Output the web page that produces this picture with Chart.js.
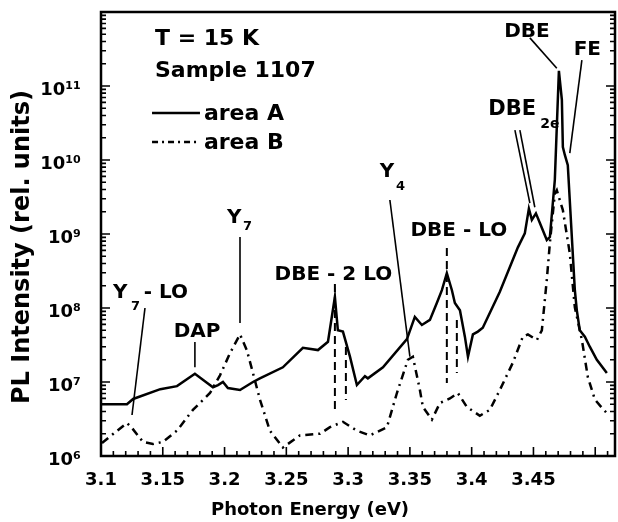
<!DOCTYPE html>
<html>
<head>
<meta charset="utf-8">
<script src="https://cdn.jsdelivr.net/npm/chart.js@4"></script>
<style>
html, body { margin: 0; padding: 0; background: #fff; }
</style>
</head>
<body>
<canvas id="pl" width="618" height="522"></canvas>
<script>
// area A (solid) - photon energy in eV, PL intensity in rel. units
var energyA = [3.100, 3.121, 3.126, 3.148, 3.1615, 3.176, 3.1906, 3.1947, 3.1987, 3.2027,
  3.2125, 3.223, 3.2286, 3.2472, 3.2634, 3.2756, 3.2837, 3.2893, 3.2917, 3.2958,
  3.3015, 3.3071, 3.3136, 3.316, 3.3282, 3.3476, 3.354, 3.3597, 3.3662, 3.3718,
  3.3759, 3.3799, 3.384, 3.3864, 3.3905, 3.3945, 3.397, 3.401, 3.405, 3.409,
  3.4228, 3.4374, 3.443, 3.4463, 3.4487, 3.452, 3.4552, 3.4608, 3.4633, 3.4673,
  3.4689, 3.4706, 3.473, 3.4738, 3.4754, 3.4778, 3.4835, 3.4851, 3.4875, 3.4916,
  3.4956, 3.5013, 3.5094];
var intensityA = [5.0e6, 5.0e6, 5.9e6, 8.0e6, 8.8e6, 1.29e7, 8.5e6, 9.1e6, 1.0e7, 8.3e6,
  7.8e6, 1.0e7, 1.12e7, 1.58e7, 2.9e7, 2.7e7, 3.5e7, 1.41e8, 5.0e7, 4.8e7,
  2.2e7, 9.1e6, 1.2e7, 1.12e7, 1.58e7, 3.8e7, 7.6e7, 5.9e7, 6.9e7, 1.17e8,
  1.74e8, 2.95e8, 1.74e8, 1.17e8, 9.3e7, 4.1e7, 2.2e7, 4.4e7, 4.8e7, 5.4e7,
  1.66e8, 6.6e8, 1.02e9, 2.2e9, 1.55e9, 1.9e9, 1.41e9, 8.3e8, 9.1e8, 5.4e9,
  2.8e10, 1.6e11, 6.5e10, 1.5e10, 1.17e10, 8.5e9, 1.74e8, 9.3e7, 5.0e7, 4.1e7,
  3.0e7, 2.0e7, 1.32e7];

// area B (dash-dot)
var energyB = [3.1008, 3.121, 3.125, 3.134, 3.142, 3.150, 3.1615, 3.1744, 3.1882, 3.1963,
  3.2044, 3.2125, 3.218, 3.223, 3.2286, 3.2367, 3.2472, 3.261, 3.2772, 3.2853,
  3.2958, 3.3071, 3.3176, 3.3314, 3.3395, 3.3484, 3.3524, 3.3581, 3.3605, 3.3678,
  3.3743, 3.3824, 3.3888, 3.3961, 3.4066, 3.4147, 3.4228, 3.4333, 3.4414, 3.4455,
  3.4528, 3.4568, 3.4608, 3.4633, 3.4673, 3.4689, 3.4738, 3.4794, 3.4835, 3.4892,
  3.494, 3.4997, 3.5053, 3.5094];
var intensityB = [1.5e6, 2.8e6, 2.4e6, 1.55e6, 1.45e6, 1.55e6, 2.2e6, 4.2e6, 7.1e6, 1.23e7,
  2.45e7, 4.4e7, 2.7e7, 1.32e7, 5.8e6, 2.2e6, 1.3e6, 1.9e6, 2.0e6, 2.45e6,
  2.9e6, 2.2e6, 1.9e6, 2.45e6, 7.1e6, 2.0e7, 2.2e7, 7.8e6, 4.6e6, 3.1e6,
  5.2e6, 6.0e6, 7.1e6, 4.6e6, 3.5e6, 4.2e6, 7.8e6, 1.82e7, 4.1e7, 4.4e7,
  3.7e7, 5.0e7, 2.4e8, 7.6e8, 3.5e9, 3.9e9, 2.1e9, 5.5e8, 1.02e8, 3.7e7,
  1.17e7, 5.8e6, 4.5e6, 3.8e6];

var xTickValues = [3.1, 3.15, 3.2, 3.25, 3.3, 3.35, 3.4, 3.45, 3.5];
var xTickLabels = ['3.1', '3.15', '3.2', '3.25', '3.3', '3.35', '3.4', '3.45', '3.5'];
var yTickValues = [1e6, 1e7, 1e8, 1e9, 1e10, 1e11];
var yTickLabels = ['10\u2076', '10\u2077', '10\u2078', '10\u2079', '10\u00b9\u2070', '10\u00b9\u00b9'];

// peak labels, placed in data units
var notes = [
  {t: 'T = 15 K', x: 3.1437, y: 3.58e11, size: 22, align: 'left'},
  {t: 'Sample 1107', x: 3.1437, y: 1.32e11, size: 22, align: 'left'},
  {t: 'Y', x: 3.1097, y: 1.36e8, size: 20, align: 'left'},
  {t: '7', x: 3.1243, y: 9.4e7, size: 13, align: 'left'},
  {t: '- LO', x: 3.1345, y: 1.36e8, size: 20, align: 'left'},
  {t: 'DAP', x: 3.1777, y: 4.06e7, size: 20, align: 'center'},
  {t: 'Y', x: 3.2019, y: 1.41e9, size: 20, align: 'left'},
  {t: '7', x: 3.2149, y: 1.12e9, size: 13, align: 'left'},
  {t: 'DBE - 2 LO', x: 3.2881, y: 2.39e8, size: 20, align: 'center'},
  {t: 'Y', x: 3.3257, y: 5.9e9, size: 20, align: 'left'},
  {t: '4', x: 3.3387, y: 3.94e9, size: 13, align: 'left'},
  {t: 'DBE - LO', x: 3.3896, y: 9.4e8, size: 20, align: 'center'},
  {t: 'DBE', x: 3.4135, y: 4.06e10, size: 21, align: 'left'},
  {t: '2e', x: 3.4555, y: 2.7e10, size: 14, align: 'left'},
  {t: 'DBE', x: 3.4447, y: 4.6e11, size: 20, align: 'center'},
  {t: 'FE', x: 3.4936, y: 2.62e11, size: 20, align: 'center'}
];
var pointers = [
  {x1: 3.2125, y1: 9.1e8, x2: 3.2125, y2: 6.27e7},
  {x1: 3.1356, y1: 1.0e8, x2: 3.1251, y2: 3.58e6},
  {x1: 3.176, y1: 3.47e7, x2: 3.176, y2: 1.58e7},
  {x1: 3.3338, y1: 2.88e9, x2: 3.35, y2: 2.2e7},
  {x1: 3.435, y1: 2.54e10, x2: 3.4471, y2: 2.62e9},
  {x1: 3.439, y1: 2.54e10, x2: 3.4511, y2: 2.3e9},
  {x1: 3.4471, y1: 4.47e11, x2: 3.4689, y2: 1.74e11},
  {x1: 3.4892, y1: 2.24e11, x2: 3.4794, y2: 1.24e10}
];
var phononLines = [
  {x: 3.2893, y1: 2.11e8, y2: 4.19e6},
  {x: 3.2982, y1: 2.97e7, y2: 5.71e6},
  {x: 3.3799, y1: 6.47e8, y2: 9.7e6},
  {x: 3.388, y1: 6.89e7, y2: 1.32e7}
];
var keyItems = [
  {t: 'area A', x1: 3.1413, x2: 3.1801, tx: 3.1833, y: 4.3e10, dash: []},
  {t: 'area B', x1: 3.1413, x2: 3.1801, tx: 3.1833, y: 1.75e10, dash: [6, 4, 2, 4]}
];

var FONT = '"DejaVu Sans", sans-serif';
Chart.defaults.font.family = FONT;
Chart.defaults.font.weight = 'bold';
Chart.defaults.color = '#000';

function near(a, b) { return Math.abs(a - b) < Math.abs(b) * 1e-6; }

var decorate = {
  id: 'decorate',
  afterDatasetsDraw: function (chart) {
    var ctx = chart.ctx, a = chart.chartArea;
    var xs = chart.scales.x, ys = chart.scales.y;
    var X = function (v) { return xs.getPixelForValue(v); };
    var Y = function (v) { return ys.getPixelForValue(v); };
    ctx.save();
    ctx.strokeStyle = '#000';
    ctx.fillStyle = '#000';

    // box
    ctx.lineWidth = 2.5;
    ctx.strokeRect(a.left, a.top, a.right - a.left, a.bottom - a.top);

    // inward ticks
    ctx.lineWidth = 1.6;
    ctx.beginPath();
    for (var i = 0; i <= 41; i++) {
      var p = X(3.1 + i * 0.01);
      var len = i % 5 === 0 ? 9 : 5;
      ctx.moveTo(p, a.bottom); ctx.lineTo(p, a.bottom - len);
    }
    for (var d = 6; d < 12; d++) {
      for (var m = 1; m < 10; m++) {
        var q = Y(m * Math.pow(10, d));
        var l2 = m === 1 ? 9 : 5;
        ctx.moveTo(a.left, q); ctx.lineTo(a.left + l2, q);
        ctx.moveTo(a.right, q); ctx.lineTo(a.right - l2, q);
      }
    }
    ctx.stroke();

    // pointer lines
    ctx.lineWidth = 1.6;
    pointers.forEach(function (s) {
      ctx.beginPath();
      ctx.moveTo(X(s.x1), Y(s.y1)); ctx.lineTo(X(s.x2), Y(s.y2));
      ctx.stroke();
    });
    ctx.lineWidth = 2;
    ctx.setLineDash([8, 5]);
    phononLines.forEach(function (s) {
      ctx.beginPath();
      ctx.moveTo(X(s.x), Y(s.y1)); ctx.lineTo(X(s.x), Y(s.y2));
      ctx.stroke();
    });
    ctx.setLineDash([]);

    // key
    keyItems.forEach(function (k) {
      ctx.lineWidth = 2.5;
      ctx.setLineDash(k.dash);
      ctx.beginPath();
      ctx.moveTo(X(k.x1), Y(k.y)); ctx.lineTo(X(k.x2), Y(k.y));
      ctx.stroke();
      ctx.setLineDash([]);
      ctx.font = 'bold 22px ' + FONT;
      ctx.textAlign = 'left';
      ctx.textBaseline = 'middle';
      ctx.fillText(k.t, X(k.tx), Y(k.y) + 1);
    });

    // text labels
    ctx.textBaseline = 'alphabetic';
    notes.forEach(function (n) {
      ctx.font = 'bold ' + n.size + 'px ' + FONT;
      ctx.textAlign = n.align;
      ctx.fillText(n.t, X(n.x), Y(n.y));
    });

    // axis titles
    ctx.font = 'bold 18px ' + FONT;
    ctx.textAlign = 'center';
    ctx.fillText('Photon Energy (eV)', 310, 515);
    ctx.save();
    ctx.translate(29, 247);
    ctx.rotate(-Math.PI / 2);
    ctx.font = 'bold 24px ' + FONT;
    ctx.fillText('PL Intensity (rel. units)', 0, 0);
    ctx.restore();

    ctx.restore();
  }
};

function pts(xs, ys) {
  return xs.map(function (x, i) { return {x: x, y: ys[i]}; });
}

new Chart(document.getElementById('pl'), {
  type: 'line',
  data: {
    datasets: [{
      label: 'area A',
      data: pts(energyA, intensityA),
      borderColor: '#000',
      borderWidth: 2.5,
      pointRadius: 0,
      tension: 0,
      fill: false
    }, {
      label: 'area B',
      data: pts(energyB, intensityB),
      borderColor: '#000',
      borderWidth: 2.5,
      borderDash: [8, 5, 2, 5],
      pointRadius: 0,
      tension: 0,
      fill: false
    }]
  },
  options: {
    responsive: false,
    animation: false,
    devicePixelRatio: 1,
    layout: { padding: { top: 12, right: 3, left: 0, bottom: 0 } },
    plugins: { legend: { display: false }, tooltip: { enabled: false } },
    scales: {
      x: {
        type: 'linear',
        min: 3.1,
        max: 3.516,
        afterFit: function (s) {
          s.height = 66;
          s.paddingLeft = 0; s.paddingRight = 0;
        },
        grid: { display: false, drawTicks: false },
        border: { display: false },
        ticks: {
          stepSize: 0.05,
          autoSkip: false,
          maxRotation: 0,
          padding: 14,
          font: { size: 18, weight: 'bold' },
          callback: function (v) {
            for (var i = 0; i < xTickValues.length; i++) {
              if (Math.abs(v - xTickValues[i]) < 1e-6) return xTickLabels[i];
            }
            return '';
          }
        }
      },
      y: {
        type: 'logarithmic',
        min: 1e6,
        max: 1e12,
        afterFit: function (s) {
          s.width = 101;
          s.paddingTop = 0; s.paddingBottom = 0;
        },
        grid: { display: false, drawTicks: false },
        border: { display: false },
        ticks: {
          autoSkip: false,
          padding: 20,
          labelOffset: 4,
          font: { size: 18, weight: 'bold' },
          callback: function (v) {
            for (var i = 0; i < yTickValues.length; i++) {
              if (near(v, yTickValues[i])) return yTickLabels[i];
            }
            return '';
          }
        }
      }
    }
  },
  plugins: [decorate]
});
</script>
</body>
</html>
